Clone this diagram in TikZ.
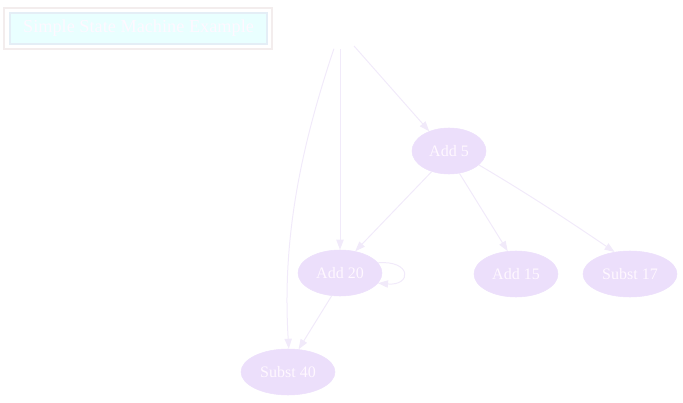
\documentclass[tikz,border=0pt]{standalone}
\usepackage{fontspec}
\setmainfont{Liberation Serif}
\usetikzlibrary{arrows.meta,shapes.geometric}
\definecolor{statefill}{HTML}{ECDFFB}
\definecolor{edgecol}{HTML}{F1EAFA}
\definecolor{titlefill}{HTML}{E9FFFF}
\definecolor{titleline}{HTML}{E4EEF6}
\definecolor{frameline}{HTML}{F3EDED}
\definecolor{labelcol}{HTML}{FFF8FF}
\begin{document}
\begin{tikzpicture}[
      x=0.75pt, y=-0.75pt,
      font=\fontsize{12}{14}\selectfont,
      state/.style={
        ellipse, fill=statefill, draw=statefill, text=labelcol,
        minimum height=34.5pt, inner sep=0pt
      },
      trans/.style={
        draw=edgecol, line width=0.75pt,
        -{Triangle[length=7.5pt,width=5.5pt]}
      }
    ]
    \useasboundingbox (0,0) rectangle (683,403);

    \draw[frameline, line width=0.8pt] (4,8) rectangle (272,49);
    \node[draw=titleline, fill=titlefill, line width=0.8pt,
      minimum width=192.75pt, minimum height=23.25pt, inner sep=0pt,
      text=labelcol, font=\fontsize{13.7}{16}\selectfont] (title) at (138.5,28.5)
      {Simple State Machine Example};

    \node[ellipse, minimum width=40pt, minimum height=34.5pt] (start) at (340,26) {};
    \node[state, minimum width=55.5pt] (add5) at (449,151) {Add 5};
    \node[state, minimum width=63pt] (add20) at (340,273) {Add 20};
    \node[state, minimum width=63pt] (add15) at (516,274) {Add 15};
    \node[state, minimum width=70.5pt] (sub17) at (630,274) {Subst 17};
    \node[state, minimum width=70.5pt] (sub40) at (288,372) {Subst 40};

    \draw[trans] (start.-55) -- (add5.135);
    \draw[trans] (start.south) -- (add20.north);
    \draw[trans] (start.-105) .. controls (300,150) and (282,240) .. (sub40.88);
    \draw[trans] (add5.-130) -- (add20.55);
    \draw[trans] (add5.-65) -- (add15.110);
    \draw[trans] (add5.-25) .. controls (530,195) and (575,225) .. (sub17.125);
    \draw[trans] (add20.15) .. controls (412,260) and (412,286) .. (add20.-15);
    \draw[trans] (add20.-110) -- (sub40.65);
  \end{tikzpicture}
\end{document}
